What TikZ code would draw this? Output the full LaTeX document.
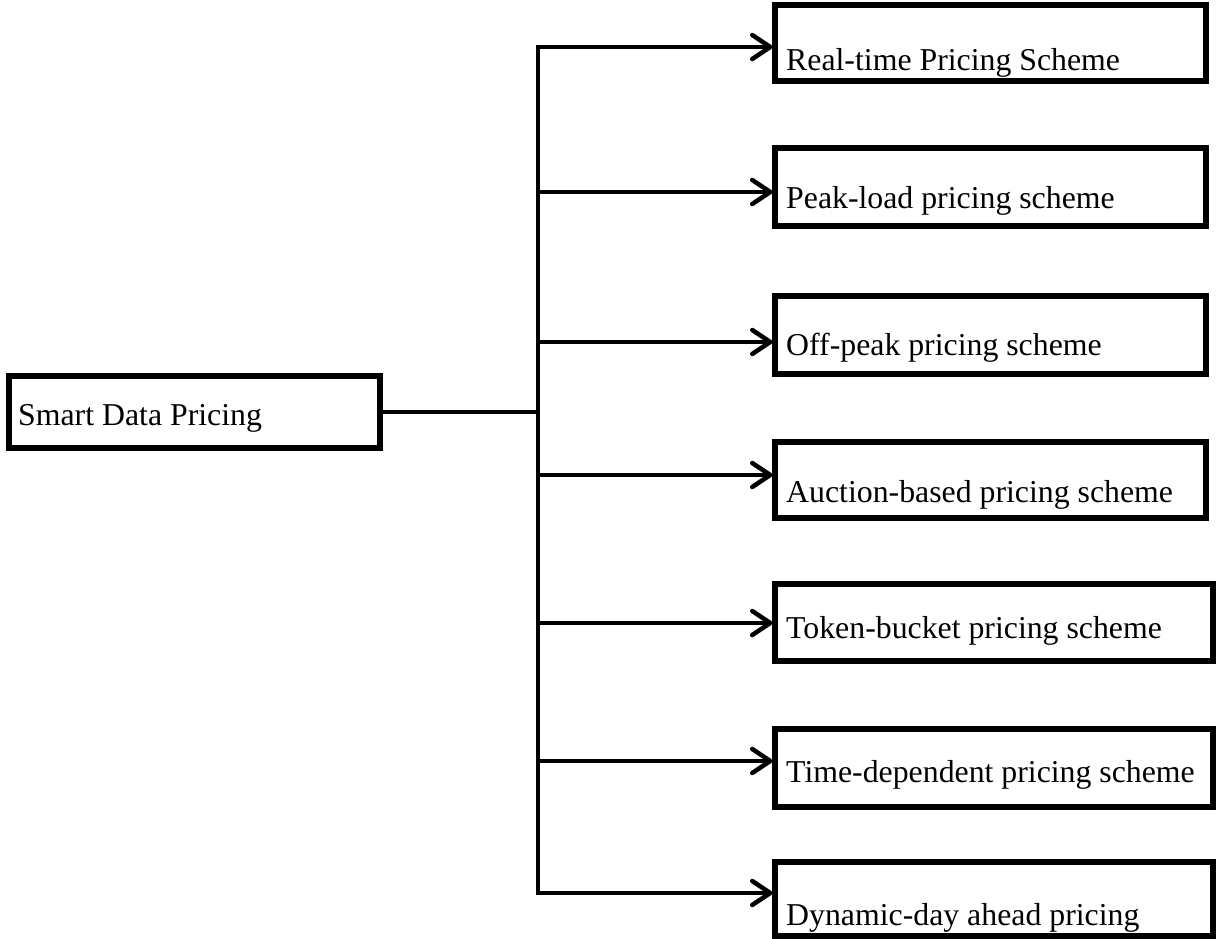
\documentclass[tikz,border=0pt]{standalone}
\usepackage{fontspec}
\setmainfont{Liberation Serif}
\usetikzlibrary{arrows.meta}
\begin{document}
\begin{tikzpicture}[x=1pt,y=-1pt,
  box/.style={draw, line width=5.5pt, rectangle, inner sep=0pt, outer sep=0pt, anchor=north west},
  lbl/.style={anchor=base west, inner sep=0pt, font=\fontsize{31.8}{38}\selectfont},
  link/.style={line width=4.5pt},
  arr/.style={line width=4.5pt, shorten >=2.5pt,
    -{Straight Barb[length=18pt,width=24pt,line cap=round,line join=round]}}]

\useasboundingbox (0,0) rectangle (1218,938);

% root box
\node[box, minimum width=371pt, minimum height=72pt] (root) at (9,376) {};
\node[lbl] (rootT) at (18,425) {Smart Data Pricing};

% scheme boxes
\node[box, minimum width=431pt, minimum height=76pt] (b1) at (775,5) {};
\node[box, minimum width=431pt, minimum height=78pt] (b2) at (775,148) {};
\node[box, minimum width=431pt, minimum height=78pt] (b3) at (775,296) {};
\node[box, minimum width=431pt, minimum height=76pt] (b4) at (775,442) {};
\node[box, minimum width=438pt, minimum height=77pt] (b5) at (775,584) {};
\node[box, minimum width=438pt, minimum height=78pt] (b6) at (775,729) {};
\node[box, minimum width=438pt, minimum height=74pt] (b7) at (775,862) {};

\node[lbl] (t1) at (786,70)  {Real-time Pricing Scheme};
\node[lbl] (t2) at (786,208) {Peak-load pricing scheme};
\node[lbl] (t3) at (786,355) {Off-peak pricing scheme};
\node[lbl] (t4) at (786,502) {Auction-based pricing scheme};
\node[lbl] (t5) at (786,638) {Token-bucket pricing scheme};
\node[lbl] (t6) at (786,782) {Time-dependent pricing scheme};
\node[lbl] (t7) at (786,925) {Dynamic-day ahead pricing};

% branch points on the vertical trunk
\coordinate (a1) at (538,47);
\coordinate (a2) at (538,192);
\coordinate (a3) at (538,342);
\coordinate (a4) at (538,475);
\coordinate (a5) at (538,623);
\coordinate (a6) at (538,761);
\coordinate (a7) at (538,893);

% trunk and feed from the root
\draw[link, line cap=rect] (a1) -- (a7);
\draw[link] (root.east) -- (root.east -| a1);

% branches
\foreach \i in {1,...,7}{
  \draw[arr] (a\i) -- (a\i -| b\i.west);
}
\end{tikzpicture}
\end{document}
